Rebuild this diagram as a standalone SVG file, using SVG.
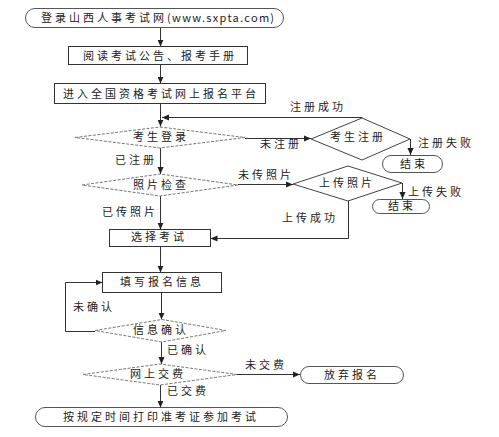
<svg xmlns="http://www.w3.org/2000/svg" width="499" height="437" viewBox="0 0 499 437">
<style>
text{font-family:"Noto Sans CJK SC","Liberation Sans",sans-serif;font-size:11px;letter-spacing:3px;fill:#222}
.lat{letter-spacing:1.3px}
.box{fill:#fff;stroke:#333;stroke-width:1}
.term{fill:#fff;stroke:#555;stroke-width:1}
.dd{fill:#fff;stroke:#777;stroke-width:1;stroke-dasharray:3 1.5}
.sd{fill:#fff;stroke:#444;stroke-width:1}
.c{fill:none;stroke:#333;stroke-width:1}
.m{text-anchor:middle}
</style>
<defs>
<marker id="ar" viewBox="0 0 8 8" refX="8" refY="4" markerWidth="7" markerHeight="7" markerUnits="userSpaceOnUse" orient="auto">
<path d="M0,0.5 L8,4 L0,7.5 Z" fill="#222"/>
</marker>
</defs>
<rect width="499" height="437" fill="#fff"/>
<g id="connectors">
<path class="c" d="M160.5,27.5 V46.5" marker-end="url(#ar)"/>
<path class="c" d="M160.5,64.5 V83.5" marker-end="url(#ar)"/>
<path class="c" d="M160.5,103.5 V126.5" marker-end="url(#ar)"/>
<path class="c" d="M362,118 V117.5 H162" marker-end="url(#ar)"/>
<path class="c" d="M245,138.5 H311" marker-end="url(#ar)"/>
<path class="c" d="M410.5,139 V155" marker-end="url(#ar)"/>
<path class="c" d="M160.5,148 V174" marker-end="url(#ar)"/>
<path class="c" d="M238,184.5 H293" marker-end="url(#ar)"/>
<path class="c" d="M402.5,183 V199" marker-end="url(#ar)"/>
<path class="c" d="M348.5,201 V238.5 H210.5" marker-end="url(#ar)"/>
<path class="c" d="M160.5,196 V229.5" marker-end="url(#ar)"/>
<path class="c" d="M160.5,247 V272.5" marker-end="url(#ar)"/>
<path class="c" d="M161.5,292.5 V319.5" marker-end="url(#ar)"/>
<path class="c" d="M95,331.5 H65.5 V282.5 H102.5" marker-end="url(#ar)"/>
<path class="c" d="M161.5,342 V364" marker-end="url(#ar)"/>
<path class="c" d="M237,374.5 H300" marker-end="url(#ar)"/>
<path class="c" d="M160.5,385 V407.5" marker-end="url(#ar)"/>
<text x="290" y="111">注册成功</text>
<text x="260" y="148">未注册</text>
<text x="418" y="147">注册失败</text>
<text x="115" y="164">已注册</text>
<text x="238" y="179">未传照片</text>
<text x="102" y="216">已传照片</text>
<text x="282" y="222">上传成功</text>
<text x="408" y="196">上传失败</text>
<text x="73" y="311">未确认</text>
<text x="167" y="354">已确认</text>
<text x="245" y="369">未交费</text>
<text x="167" y="395">已交费</text>
</g>
<g id="n1"><rect class="term" x="25.5" y="8.5" width="258" height="19" rx="9.5"/><text x="41" y="22">登录山西人事考试网<tspan class="lat">(www.sxpta.com)</tspan></text></g>
<g id="n2"><rect class="box" x="68.5" y="46.5" width="179" height="18"/><text class="m" x="160" y="60">阅读考试公告、报考手册</text></g>
<g id="n3"><rect class="box" x="54.5" y="83.5" width="211" height="20"/><text class="m" x="161" y="98">进入全国资格考试网上报名平台</text></g>
<g id="n4"><polygon class="dd" points="75,137.5 160,127 245,137.5 160,148"/><text class="m" x="161" y="141">考生登录</text></g>
<g id="n5"><polygon class="sd" points="311,139 362,118 410,139 362,160"/><text class="m" x="358" y="141">考生注册</text></g>
<g id="n6"><rect class="term" x="382.5" y="155.5" width="60" height="17" rx="8.5"/><text class="m" x="414" y="168">结束</text></g>
<g id="n7"><polygon class="dd" points="82,185 160,174 238,185 160,196"/><text class="m" x="161" y="189">照片检查</text></g>
<g id="n8"><polygon class="sd" points="293,184 348,166 402,183 348,201"/><text class="m" x="347" y="187">上传照片</text></g>
<g id="n9"><rect class="term" x="372.5" y="199.5" width="57" height="14" rx="7"/><text class="m" x="402" y="210">结束</text></g>
<g id="n10"><rect class="box" x="109.5" y="229.5" width="101" height="17"/><text class="m" x="159" y="241">选择考试</text></g>
<g id="n11"><rect class="box" x="102.5" y="272.5" width="119" height="20"/><text class="m" x="162" y="286">填写报名信息</text></g>
<g id="n12"><polygon class="dd" points="95,330.5 162,319.5 226,330.5 162,342"/><text class="m" x="161" y="334">信息确认</text></g>
<g id="n13"><polygon class="dd" points="83,374.5 160,364 237,374.5 160,385"/><text class="m" x="158" y="378">网上交费</text></g>
<g id="n14"><rect class="term" x="300.5" y="366.5" width="103" height="17" rx="8.5"/><text class="m" x="352" y="379">放弃报名</text></g>
<g id="n15"><rect class="term" x="35.5" y="407.5" width="252" height="19" rx="9.5"/><text class="m" x="161" y="421">按规定时间打印准考证参加考试</text></g>
</svg>
